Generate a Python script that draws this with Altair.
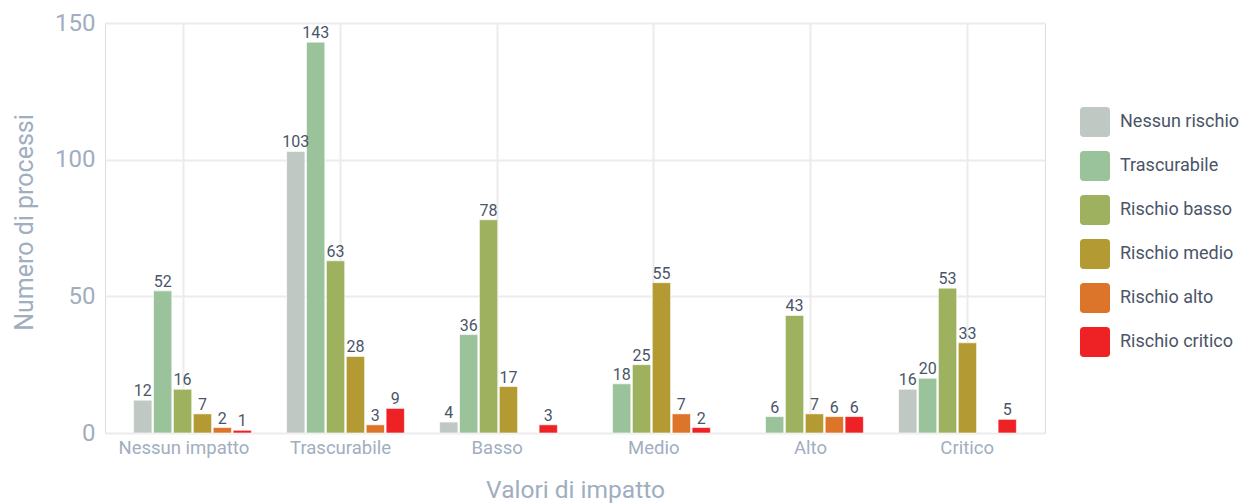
import altair as alt
import pandas as pd

impacts = ["Nessun impatto", "Trascurabile", "Basso", "Medio", "Alto", "Critico"]
risks = ["Nessun rischio", "Trascurabile", "Rischio basso", "Rischio medio", "Rischio alto", "Rischio critico"]
colors = ["#bfc8c3", "#9bc39b", "#9eb15e", "#b39a33", "#dc7529", "#ee2125"]

# values per impact, in order of risks (None = missing)
v_nessun = [12, 52, 16, 7, 2, 1]
v_trasc = [103, 143, 63, 28, 3, 9]
v_basso = [4, 36, 78, 17, None, 3]
v_medio = [None, 18, 25, 55, 7, 2]
v_alto = [None, 6, 43, 7, 6, 6]
v_critico = [16, 20, 53, 33, None, 5]

rows = []
for imp, vals in zip(impacts, [v_nessun, v_trasc, v_basso, v_medio, v_alto, v_critico]):
    for r, v in zip(risks, vals):
        if v is not None:
            rows.append({"impatto": imp, "rischio": r, "valore": v})
df = pd.DataFrame(rows)
df_axis = pd.DataFrame({"impatto": impacts})

font = "Roboto"
axis_col = "#a0aec0"
grid_col = "#ececec"
rounded = ("M-0.75,-1 L0.75,-1 Q1,-1 1,-0.75 L1,0.75 Q1,1 0.75,1 L-0.75,1 "
           "Q-1,1 -1,0.75 L-1,-0.75 Q-1,-1 -0.75,-1 Z")

y = alt.Y("valore:Q", title="Numero di processi",
          scale=alt.Scale(domain=[0, 150]),
          axis=alt.Axis(values=[0, 50, 100, 150], labelFontSize=24, labelColor=axis_col,
                        titleFontSize=25, titleColor=axis_col, titleFontWeight="normal",
                        titlePadding=17, titleY=199, domain=False, ticks=False, labelPadding=10,
                        gridColor=grid_col, gridWidth=2, labelFont=font, titleFont=font))

# bars & value labels (own band scale)
xb = alt.X("impatto:N", sort=impacts, axis=None,
           scale=alt.Scale(domain=impacts, paddingInner=0.23, paddingOuter=0.187))
xo = alt.XOffset("rischio:N", sort=risks, scale=alt.Scale(domain=risks, paddingInner=0.08))
color = alt.Color("rischio:N", sort=risks,
                  scale=alt.Scale(domain=risks, range=colors),
                  legend=alt.Legend(title=None, orient="none", legendX=975, legendY=84,
                                    symbolType=rounded, symbolSize=900, symbolStrokeWidth=0,
                                    symbolOpacity=1, labelFontSize=18, labelColor="#4a5568",
                                    labelFont=font, rowPadding=14, labelOffset=10))

base = alt.Chart(df).encode(x=xb, xOffset=xo, y=y)
bars = base.mark_bar(stroke="white", strokeWidth=1, strokeOpacity=0.6).encode(color=color)
labels = base.mark_text(dy=-4, baseline="alphabetic", fontSize=16, color="#4a5568",
                        font=font).encode(text="valore:Q")
data_layer = alt.layer(bars, labels)

# category axis with gridlines at evenly spaced positions
xa = alt.X("impatto:N", sort=impacts, title="Valori di impatto",
           scale=alt.Scale(domain=impacts, paddingInner=0, paddingOuter=0),
           axis=alt.Axis(labelAngle=0, labelFontSize=18.5, labelColor=axis_col,
                         titleFontSize=24.5, titleColor=axis_col, titleFontWeight="normal",
                         titlePadding=22, domain=False, ticks=False, labelPadding=5,
                         grid=True, gridColor=grid_col, gridWidth=2, bandPosition=0.5,
                         labelFont=font, titleFont=font))
axis_layer = alt.Chart(df_axis).mark_point(opacity=0).encode(x=xa)

chart = alt.layer(axis_layer, data_layer).resolve_scale(x="independent").properties(
    width=940, height=410,
    autosize=alt.AutoSizeParams(type="none"),
    padding={"left": 97, "top": 15, "right": 205, "bottom": 70},
).configure_view(stroke=grid_col, strokeWidth=2).configure(background="white")

chart.save("out.html", embed_options={"renderer": "svg", "actions": False})
